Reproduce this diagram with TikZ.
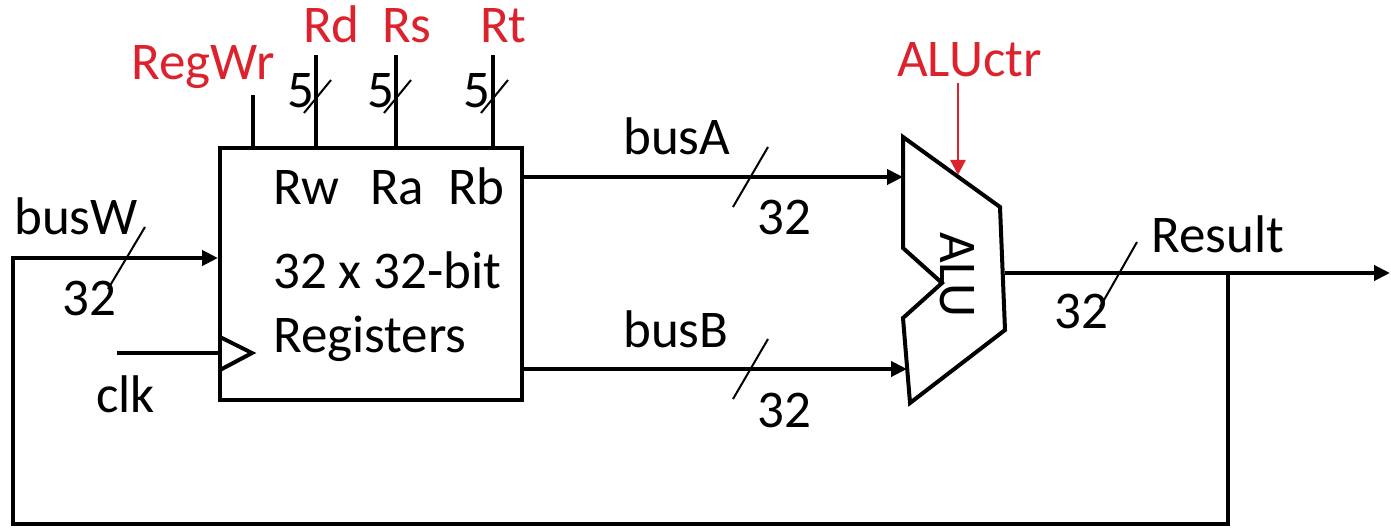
\documentclass[tikz,border=0pt]{standalone}
\usepackage{fontspec}
\setmainfont{Carlito}
\usetikzlibrary{arrows.meta,calc}
\definecolor{ctrlred}{RGB}{220,35,45}
\begin{document}
\begin{tikzpicture}[x=1pt,y=-1pt,
  wire/.style={line width=4pt},
  bus/.style={wire,-{Triangle[length=16pt,width=15pt]}},
  slash/.style={line width=2pt},
  lbl/.style={font=\fontsize{53}{60}\selectfont,inner sep=0pt,anchor=base west},
  ctrl/.style={lbl,text=ctrlred},
  ctrlarrow/.style={draw=ctrlred,line width=2.5pt,-{Triangle[length=15pt,width=15pt]}}]
\useasboundingbox (0,0) rectangle (1391,529);

% register file
\node[draw,line width=4pt,minimum width=302pt,minimum height=252pt,inner sep=0pt] (reg) at (371,274) {};
\node[lbl] (rw) at (273,205) {Rw};
\node[lbl] (ra) at (370,205) {Ra};
\node[lbl] (rb) at (448,205) {Rb};
\node[lbl] (size) at (273,288) {32 x 32-bit};
\node[lbl] (regs) at (273,352) {Registers};

% control inputs at the top
\coordinate (regwrtop) at (253,95);
\coordinate (rdtop) at (316,55);
\coordinate (rstop) at (396,55);
\coordinate (rttop) at (493,55);
\draw[wire] (regwrtop) -- (regwrtop |- reg.north);
\draw[wire] (rdtop) -- (rdtop |- reg.north);
\draw[wire] (rstop) -- (rstop |- reg.north);
\draw[wire] (rttop) -- (rttop |- reg.north);
\draw[slash] (304,113) -- (331,80);
\draw[slash] (384,113) -- (411,80);
\draw[slash] (481,113) -- (508,80);
\node[lbl] (five1) at (287,108) {5};
\node[lbl] (five2) at (367,108) {5};
\node[lbl] (five3) at (463,108) {5};
\node[ctrl] (regwr) at (131,80) {RegWr};
\node[ctrl] (rd) at (303,43) {Rd};
\node[ctrl] (rs) at (382,43) {Rs};
\node[ctrl] (rt) at (480,43) {Rt};

% clock
\coordinate (clkin) at (117,353);
\draw[wire] (clkin) -- (clkin -| reg.west);
\draw[wire,line join=miter] (220,337) -- (252,353) -- (220,370);
\node[lbl] (clk) at (96,412) {clk};

% ALU
\draw[wire,line join=miter] (903,137) -- (1000,207) -- (1005,330) -- (910,403) -- (903,318) -- (942,283) -- (903,248) -- cycle;
\node[font=\fontsize{53}{60}\selectfont,inner sep=0pt,rotate=-90] (alu) at (957,275) {ALU};
\coordinate (aluA) at (903,177);
\coordinate (aluB) at (907,369);
\coordinate (aluout) at (1005,273);
\node[ctrl] (aluctr) at (897,77) {ALUctr};
\coordinate (ctrltop) at (958,83);
\coordinate (ctrlbot) at (958,175);
\draw[ctrlarrow] (ctrltop) -- (ctrlbot);

% buses A and B
\draw[bus] (reg.east |- aluA) -- (aluA);
\draw[bus] (reg.east |- aluB) -- (aluB);
\node[lbl] (busA) at (623,155) {busA};
\node[lbl] (busB) at (623,347) {busB};
\draw[slash] (733,207) -- (768,147);
\draw[slash] (733,399) -- (768,339);
\node[lbl] (nA) at (757,235) {32};
\node[lbl] (nB) at (757,427) {32};

% result and write-back loop
\coordinate (resend) at (1390,273);
\coordinate (tap) at (1228,273);
\coordinate (loopbot) at (13,524);
\coordinate (wy) at (0,258);
\draw[bus] (aluout) -- (resend);
\draw[bus] (tap) |- (loopbot) |- (reg.west |- wy);
\node[lbl] (result) at (1151,253) {Result};
\draw[slash] (1137,242) -- (1100,307);
\node[lbl] (nR) at (1054,328) {32};
\node[lbl] (busW) at (14,235) {busW};
\draw[slash] (145,227) -- (108,289);
\node[lbl] (nW) at (62,315) {32};
\end{tikzpicture}
\end{document}
